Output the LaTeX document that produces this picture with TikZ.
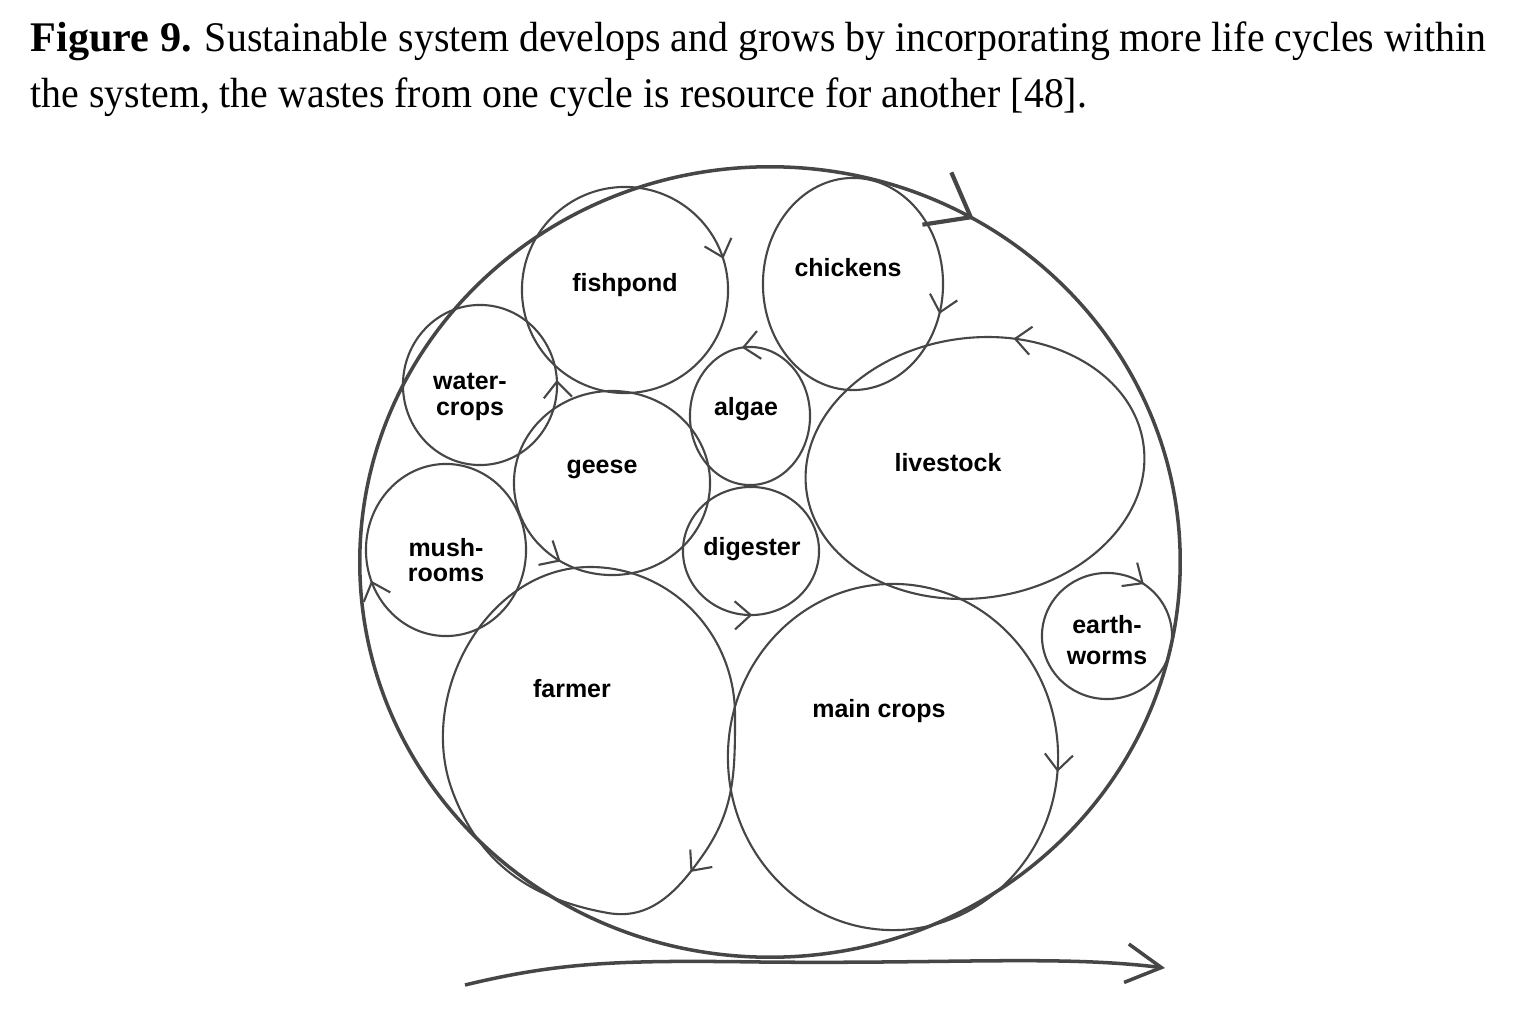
\documentclass[tikz,border=0pt]{standalone}
\usepackage{fontspec}
\setmainfont{Liberation Serif}[UprightFeatures={FakeStretch=0.944}]
\setsansfont{Liberation Sans}
\usetikzlibrary{shapes.geometric,arrows.meta,decorations.markings}
\definecolor{ink}{RGB}{70,70,70}
\tikzset{
  barb/.tip={Straight Barb[length=4.5pt,width=8pt]},
  bigbarb/.tip={Straight Barb[length=11pt,width=17pt,line width=1.2pt]},
  rim/.style={draw=ink, line width=0.6pt},
  cycle/.style={rim, ellipse, inner sep=0pt, outer sep=0pt},
  flow/.style={postaction={decorate,decoration={markings,mark=at position #1 with {\arrow{barb}}}}},
  backflow/.style={postaction={decorate,decoration={markings,mark=at position #1 with {\arrowreversed{barb}}}}},
  tag/.style={font=\sffamily\bfseries\fontsize{7.1}{7.3}\selectfont, align=center, inner sep=0pt},
}
\begin{document}
\begin{tikzpicture}[x=0.01cm, y=0.01cm]
\useasboundingbox (0,0) rectangle (1538,-1018);
\node[anchor=north west, inner sep=0pt, align=left, font=\fontsize{12}{15.9}\selectfont] (caption) at (30,-21) {\textbf{Figure 9.} Sustainable system develops and grows by incorporating more life cycles within\\the system, the wastes from one cycle is resource for another [48].};
% the whole system
\node[cycle, line width=1pt, minimum width=8.2cm, minimum height=7.9cm,
  postaction={decorate,decoration={markings,mark=at position 0.166 with {\arrowreversed{bigbarb}}}}] (system) at (770,-562) {};
% the cycles inside it
\node[cycle, backflow=0.049, minimum width=2.06cm, minimum height=2.06cm] (fishpond) at (625,-290) {};
\node[cycle, backflow=0.951, minimum width=1.8cm, minimum height=2.12cm] (chickens) at (853,-284) {};
\node[cycle, flow=0.01, minimum width=1.54cm, minimum height=1.6cm] (watercrops) at (480,-385) {};
\node[cycle, flow=0.27, minimum width=1.2cm, minimum height=1.38cm] (algae) at (750,-416) {};
\node[cycle, flow=0.66, minimum width=1.96cm, minimum height=1.84cm] (geese) at (612,-483) {};
\node[cycle, flow=0.19, rotate=8, minimum width=3.4cm, minimum height=2.6cm] (livestock) at (975,-468) {};
\node[cycle, backflow=0.56, minimum width=1.6cm, minimum height=1.72cm] (mushrooms) at (446,-550) {};
\node[cycle, flow=0.753, minimum width=1.36cm, minimum height=1.28cm] (digester) at (751,-551) {};
\node[cycle, backflow=0.153, minimum width=1.3cm, minimum height=1.26cm] (earthworms) at (1107,-636) {};
\node[cycle, backflow=0.986, minimum width=3.3cm, minimum height=3.46cm] (maincrops) at (893,-757) {};
% farmer is pressed flat against the rim
\coordinate (farmertop) at (590,-567);
\coordinate (farmerright) at (735,-715);
\coordinate (farmerturn) at (703,-855);
\coordinate (farmerbottom) at (608,-913);
\coordinate (farmerleft) at (452,-790);
\draw[rim, flow=0.395] (farmertop) to[out=0,in=90] (farmerright) to[out=-90,in=55] (farmerturn)
  to[out=235,in=-10] (farmerbottom) to[out=170,in=-70] (farmerleft) to[out=110,in=180] (farmertop);
% names
\node[tag] (fishpondtag) at (625,-285) {fishpond};
\node[tag] (chickenstag) at (848,-268) {chickens};
\node[tag] (watercropstag) at (470,-397) {water-\\crops};
\node[tag] (algaetag) at (746,-409) {algae};
\node[tag] (geesetag) at (602,-469) {geese};
\node[tag] (livestocktag) at (948,-463) {livestock};
\node[tag] (mushroomstag) at (446,-560) {mush-\\rooms};
\node[tag] (digestertag) at (752,-549) {digester};
\node[tag] (earthwormstag) at (1107,-640) {earth-\\[1.5pt]worms};
\node[tag] (farmertag) at (572,-689) {farmer};
\node[tag] (maincropstag) at (879,-711) {main crops};
% time line under the system
\coordinate (flowin) at (465,-985);
\coordinate (flowout) at (1165,-968);
\draw[ink, line width=1pt, -{Straight Barb[length=10pt,width=11pt]}] (flowin) .. controls (560,-962) and (620,-960) .. (760,-962) .. controls (950,-964) and (1060,-955) .. (flowout);
\end{tikzpicture}
\end{document}
